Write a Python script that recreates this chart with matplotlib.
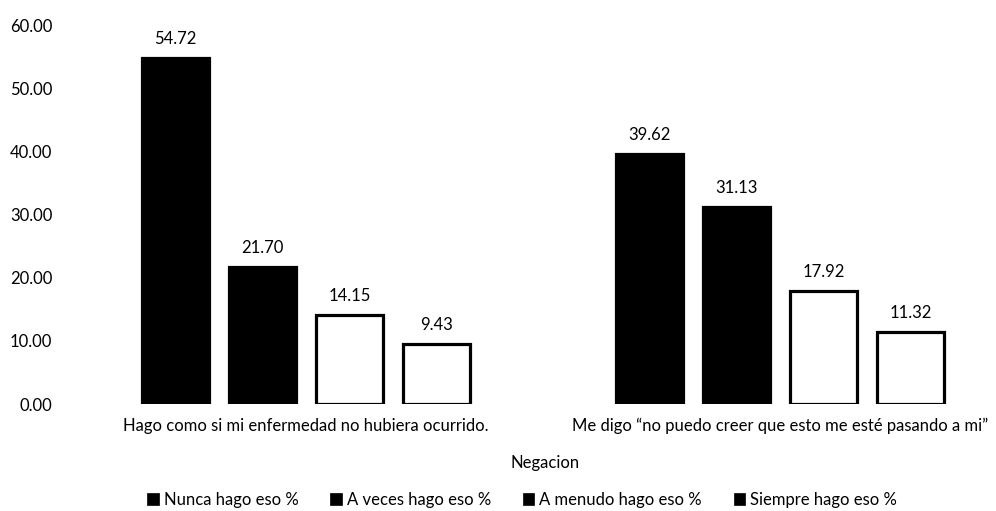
import matplotlib
matplotlib.use("Agg")
import matplotlib.pyplot as plt
import numpy as np

plt.rcParams['font.family'] = ['Lato', 'DejaVu Sans']

categories = [
    "Hago como si mi enfermedad no hubiera ocurrido.",
    "Me digo \u201cno puedo creer que esto me esté pasando a mi\u201d",
]
series_names = [
    "Nunca hago eso %",
    "A veces hago eso %",
    "A menudo hago eso %",
    "Siempre hago eso %",
]
nunca = [54.72, 39.62]
a_veces = [21.70, 31.13]
a_menudo = [14.15, 17.92]
siempre = [9.43, 11.32]
y_ticks = [0, 10, 20, 30, 40, 50, 60]
axis_title = "Negacion"


def draw_chart(filename):
    fig = plt.figure(figsize=(9.96, 5.11), dpi=100)
    ax = fig.add_axes([69 / 996, 107 / 511, 927 / 996, 379 / 511])

    values = [nunca, a_veces, a_menudo, siempre]
    faces = ['black', 'black', 'white', 'white']
    x = np.arange(len(categories))
    width = 0.141
    step = 0.1835

    for i, (vals, name, fc) in enumerate(zip(values, series_names, faces)):
        pos = x + (i - 1.5) * step
        bars = ax.bar(pos, vals, width, facecolor=fc, edgecolor='black',
                      linewidth=2.3, label=name)
        for b, v in zip(bars, vals):
            ax.annotate(f"{v:.2f}", (b.get_x() + b.get_width() / 2, v),
                        xytext=(0, 8), textcoords='offset points',
                        ha='center', va='bottom', fontsize=12)

    ax.set_xlim(-0.5, 1.456)
    ax.set_ylim(0, 60)
    ax.set_yticks(y_ticks)
    ax.set_yticklabels([f"{t:.2f}" for t in y_ticks], fontsize=12)
    ax.set_xticks(x)
    ax.set_xticklabels(categories, fontsize=12)
    ax.tick_params(axis='both', length=0)
    ax.tick_params(axis='y', pad=12)
    ax.tick_params(axis='x', pad=10)
    for s in ax.spines.values():
        s.set_visible(False)

    fig.text(545 / 996, 1 - 463 / 511, axis_title, ha='center', va='center',
             fontsize=12)

    handles, labels = ax.get_legend_handles_labels()
    leg = fig.legend(handles, labels, loc='center', ncol=4,
                     bbox_to_anchor=(522 / 996, 1 - 500 / 511), frameon=False,
                     fontsize=12, handlelength=0.7, handleheight=0.7,
                     handletextpad=0.3, columnspacing=1.9,
                     borderpad=0, borderaxespad=0)
    for h in leg.legend_handles:
        h.set_facecolor('black')
        h.set_edgecolor('black')
        h.set_linewidth(0.5)

    fig.savefig(filename, dpi=100)
    plt.close(fig)


if __name__ == "__main__":
    draw_chart("out.png")
